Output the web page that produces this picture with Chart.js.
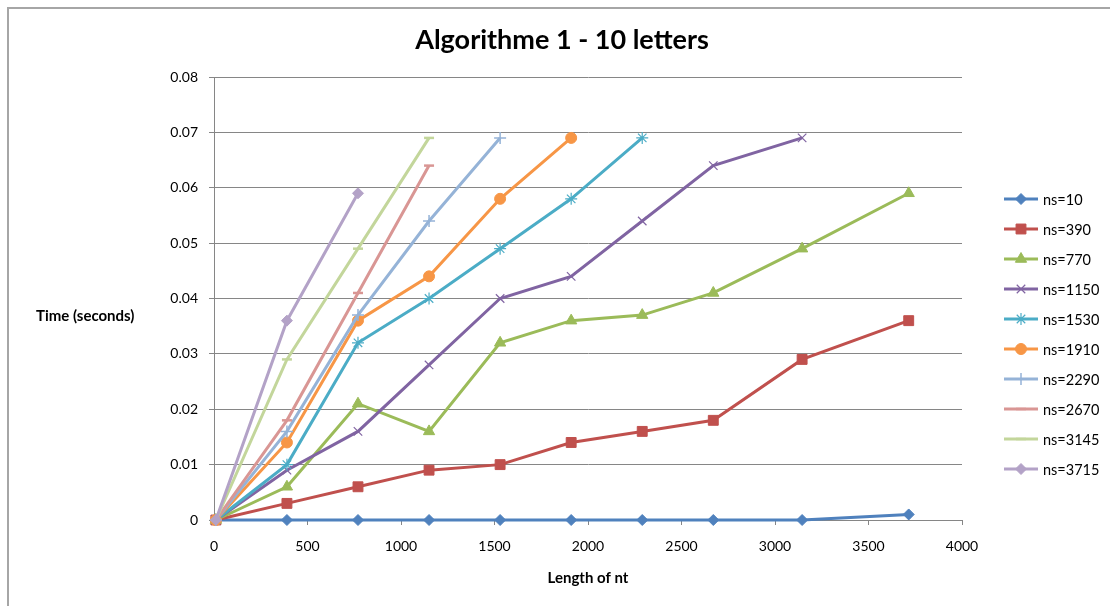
<!DOCTYPE html>
<html>
<head>
<meta charset="utf-8">
<script src="https://cdn.jsdelivr.net/npm/chart.js@4/dist/chart.umd.min.js"></script>
<style>
  html, body { margin: 0; padding: 0; background: #fff; }
  #wrap { position: relative; width: 1110px; height: 606px; overflow: hidden; font-family: Lato, "Liberation Sans", sans-serif; }
  #frame { position: absolute; left: 7px; top: 7px; width: 1200px; height: 700px; border-top: 2px solid #a6a6a6; border-left: 2px solid #a6a6a6; box-sizing: border-box; pointer-events: none; }
  #c { position: absolute; left: 0; top: 0; }
  #ytitle { position: absolute; left: 36px; top: 306px; font-size: 15px; font-weight: bold; color: #000; white-space: nowrap; }
  #legend { position: absolute; left: 1004px; top: 0; }
  .item { position: absolute; left: 0; height: 18px; display: flex; align-items: center; white-space: nowrap; font-size: 14.5px; color: #000; }
  .item canvas { display: block; margin-right: 3px; }
</style>
</head>
<body>
<div id="wrap">
  <canvas id="c" width="1110" height="606"></canvas>
  <div id="frame"></div>
  <div id="ytitle">Time (seconds)</div>
  <div id="legend"></div>
</div>
<script>
// ---- data ----
const chartTitle = 'Algorithme 1 - 10 letters';
const xTitle = 'Length of nt';
const yTitle = 'Time (seconds)';
const xValues = [10, 390, 770, 1150, 1530, 1910, 2290, 2670, 3145, 3715];
const seriesNames = ['ns=10', 'ns=390', 'ns=770', 'ns=1150', 'ns=1530', 'ns=1910', 'ns=2290', 'ns=2670', 'ns=3145', 'ns=3715'];
const ns10   = [0, 0, 0, 0, 0, 0, 0, 0, 0, 0.001];
const ns390  = [0, 0.003, 0.006, 0.009, 0.010, 0.014, 0.016, 0.018, 0.029, 0.036];
const ns770  = [0, 0.006, 0.021, 0.016, 0.032, 0.036, 0.037, 0.041, 0.049, 0.059];
const ns1150 = [0, 0.009, 0.016, 0.028, 0.040, 0.044, 0.054, 0.064, 0.069];
const ns1530 = [0, 0.010, 0.032, 0.040, 0.049, 0.058, 0.069];
const ns1910 = [0, 0.014, 0.036, 0.044, 0.058, 0.069];
const ns2290 = [0, 0.016, 0.037, 0.054, 0.069];
const ns2670 = [0, 0.018, 0.041, 0.064];
const ns3145 = [0, 0.029, 0.049, 0.069];
const ns3715 = [0, 0.036, 0.059];
const xTicks = [0, 500, 1000, 1500, 2000, 2500, 3000, 3500, 4000];
const yTicks = [0, 0.01, 0.02, 0.03, 0.04, 0.05, 0.06, 0.07, 0.08];

// ---- styles ----
const seriesValues = [ns10, ns390, ns770, ns1150, ns1530, ns1910, ns2290, ns2670, ns3145, ns3715];
const colors = ['#4F81BD', '#C0504D', '#9BBB59', '#8064A2', '#4BACC6', '#F79646', '#95B3D7', '#D99694', '#C3D69B', '#B3A2C7'];
const markers = ['rectRot', 'rect', 'triangle', 'crossRot', 'star', 'circle', 'cross', 'line', 'line', 'rectRot'];
const radii = [5.5, 7, 6.5, 6, 6, 5.5, 6, 5, 5, 5.5];
const mBorder = [1, 1, 1, 1.2, 1.2, 1, 1.5, 2.5, 2.5, 1];
const FONT = 'Lato, "Liberation Sans", sans-serif';
const GRID = '#868686';

document.getElementById('ytitle').textContent = yTitle;

const datasets = seriesNames.map((name, i) => ({
  label: name,
  data: seriesValues[i].map((v, k) => ({ x: xValues[k], y: v })),
  borderColor: colors[i],
  backgroundColor: colors[i],
  pointBackgroundColor: colors[i],
  pointBorderColor: colors[i],
  pointStyle: markers[i],
  pointRadius: radii[i],
  pointHoverRadius: radii[i],
  pointBorderWidth: mBorder[i],
  borderWidth: 3,
  tension: 0,
  clip: false,
  order: seriesNames.length - i
}));

const chart = new Chart(document.getElementById('c'), {
  type: 'line',
  data: { datasets },
  options: {
    responsive: false,
    animation: false,
    layout: { padding: { left: 14, right: 0, top: 0, bottom: 0 } },
    plugins: {
      legend: { display: false },
      tooltip: { enabled: false },
      title: {
        display: true,
        text: chartTitle,
        color: '#000',
        font: { family: FONT, size: 27, weight: 'bold', lineHeight: 1.2 },
        padding: { top: 24, bottom: 20.6 }
      }
    },
    scales: {
      x: {
        type: 'linear',
        min: 0, max: 4000,
        afterBuildTicks: s => { s.ticks = xTicks.map(v => ({ value: v })); },
        afterFit: s => { s.height = 86; },
        grid: { drawOnChartArea: false, drawTicks: true, tickLength: 5, color: GRID, lineWidth: 1 },
        border: { display: true, color: GRID, width: 1 },
        ticks: { color: '#000', padding: 13, maxRotation: 0, font: { family: FONT, size: 14 }, callback: v => String(v) },
        title: { display: true, text: xTitle, color: '#000', font: { family: FONT, size: 15, weight: 'bold', lineHeight: 1.2 }, padding: { top: 0, bottom: 19 } }
      },
      y: {
        type: 'linear',
        min: 0, max: 0.08,
        afterBuildTicks: s => { s.ticks = yTicks.map(v => ({ value: v })); },
        afterFit: s => { s.width = 200; },
        grid: { drawTicks: true, tickLength: 5, color: GRID, lineWidth: 1 },
        border: { display: true, color: GRID, width: 1 },
        ticks: { color: '#000', padding: 11, font: { family: FONT, size: 14 }, callback: v => String(+v.toFixed(2)) }
      },
      spacer: {
        type: 'linear',
        position: 'right',
        display: true,
        afterFit: s => { s.width = 148; },
        grid: { display: false },
        border: { display: false },
        ticks: { display: false }
      }
    }
  }
});

// ---- HTML legend ----
const legend = document.getElementById('legend');
const legendTop = 199, legendStep = 30;
seriesNames.forEach((name, i) => {
  const item = document.createElement('div');
  item.className = 'item';
  item.style.top = (legendTop + i * legendStep - 9) + 'px';
  const cv = document.createElement('canvas');
  cv.width = 36; cv.height = 16;
  const ctx = cv.getContext('2d');
  ctx.strokeStyle = colors[i];
  ctx.fillStyle = colors[i];
  ctx.lineWidth = 3;
  ctx.beginPath(); ctx.moveTo(0, 8); ctx.lineTo(34, 8); ctx.stroke();
  if (Chart.helpers && Chart.helpers.drawPoint) {
    ctx.lineWidth = mBorder[i];
    Chart.helpers.drawPoint(ctx, { pointStyle: markers[i], radius: radii[i], borderWidth: mBorder[i], rotation: 0 }, 17, 8);
  }
  const sp = document.createElement('span');
  sp.textContent = name;
  item.appendChild(cv);
  item.appendChild(sp);
  legend.appendChild(item);
});
</script>
</body>
</html>
